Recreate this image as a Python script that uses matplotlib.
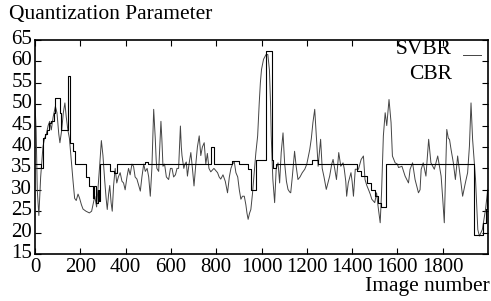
import matplotlib
matplotlib.use('Agg')
import matplotlib.pyplot as plt
from matplotlib.lines import Line2D
from matplotlib.transforms import ScaledTranslation

plt.rcParams['font.family'] = ['Liberation Serif', 'DejaVu Serif']

# SVBR quantization parameter
svbr_frame = [0, 5, 10, 17, 25, 35, 42, 50, 58, 65, 72, 80, 90, 97, 105, 110, 118, 125, 132, 138,
              145, 152, 160, 168, 175, 182, 190, 197, 205, 212, 225, 240, 250, 258, 264, 272, 279,
              286, 293, 300, 308, 314, 319, 325, 330, 336, 341, 347, 354, 361, 368, 376, 384, 391,
              398, 406, 413, 420, 428, 435, 442, 450, 458, 465, 472, 480, 487, 495, 502, 509, 516,
              520, 524, 528, 531, 535, 538, 546, 552, 556, 560, 565, 572, 580, 590, 598, 605, 612,
              620, 627, 634, 638, 642, 646, 649, 657, 662, 668, 673, 680, 688, 695, 702, 710, 717,
              725, 732, 739, 747, 754, 761, 768, 776, 790, 806, 813, 820, 830, 840, 850, 858, 865,
              872, 880, 887, 895, 902, 909, 916, 924, 931, 936, 941, 947, 953, 960, 968, 975, 983,
              990, 995, 1000, 1009, 1020, 1028, 1035, 1040, 1043, 1050, 1058, 1065, 1073, 1080,
              1087, 1095, 1102, 1110, 1117, 1124, 1129, 1136, 1146, 1153, 1161, 1170, 1180, 1191,
              1200, 1213, 1220, 1227, 1235, 1242, 1250, 1261, 1268, 1276, 1286, 1293, 1301, 1310,
              1316, 1323, 1331, 1341, 1350, 1360, 1365, 1372, 1376, 1383, 1395, 1400, 1406, 1414,
              1428, 1440, 1450, 1457, 1465, 1472, 1480, 1487, 1500, 1508, 1515, 1524, 1530, 1538,
              1546, 1553, 1563, 1572, 1578, 1590, 1600, 1605, 1620, 1634, 1649, 1656, 1667, 1678,
              1693, 1700, 1705, 1714, 1726, 1738, 1748, 1763, 1778, 1793, 1800, 1807, 1812, 1818,
              1825, 1830, 1837, 1847, 1856, 1866, 1877, 1888, 1900, 1910, 1918, 1925, 1932, 1945,
              1955, 1962, 1975, 1989, 1999]
svbr_qp = [50, 44, 30, 24, 33, 40, 42, 43, 45, 46, 44, 47, 49.5, 48, 43, 41, 44, 48, 50.3, 47,
           44, 42, 37, 32, 28, 27.5, 29, 28, 26.5, 25.5, 25, 24.6, 25, 27, 28.5, 26, 31,
           36, 41.5, 38, 32, 28, 25.4, 29, 31, 27, 25, 31, 35, 31.6, 33, 34, 32, 31.6,
           30, 33, 35, 33.5, 36, 35.5, 33, 32.5, 31, 29.7, 33, 36, 34.3, 35, 33, 28.5, 35,
           42, 48.8, 45, 42, 37, 35, 34.3, 41, 46, 42, 35.5, 36, 33, 32.4, 35, 35, 33,
           33.5, 35, 35, 40, 44.9, 40, 38, 35, 36, 36.5, 33.2, 36, 38.7, 35, 30.9, 36, 40,
           42.6, 38, 40, 41, 36, 38.5, 35, 34.2, 35, 34, 33, 32.5, 33.5, 32, 29.3, 33, 35,
           36, 36.5, 34, 33, 30, 27.8, 28.5, 28.5, 26.5, 24.5, 23.1, 24.5, 25.4, 29, 34, 38.6, 42.6,
           50.3, 55, 58.1, 60.5, 61.6, 61.6, 58, 50, 42.6, 32.5, 27, 35, 36.3, 31.6,
           38.7, 43.3, 36.3, 32, 30.1, 29.5, 29.3, 33, 39, 35.5, 32.4, 33, 34, 34.8,
           36, 39.4, 42, 45.7, 48.8, 42.6, 35.5, 41.8, 35, 33, 30.1, 31.5, 33.2, 36,
           37.1, 35, 32.4, 38.7, 35.5, 36.3, 35, 32, 28.5, 31.6, 34, 32, 28.5, 34.8,
           34.8, 37.1, 37.9, 32.4, 31, 30.1, 29, 27.8, 27, 29.3, 26, 22.3, 29.3, 42.6,
           48, 45, 51.1, 45.7, 37.9, 36.3, 36, 35.2, 35.5, 33.2, 31.6, 34.8, 36.3, 32.4,
           29.3, 30, 34.8, 36.3, 33.2, 41.8, 36.3, 34.8, 37.9, 33.2, 28, 22.3, 32, 44.1,
           42, 41.8, 39.4, 36.3, 32.4, 37.9, 33.2, 28.5, 31.6, 34, 40.2, 50.3, 41.8, 32.4,
           20.7, 19.2, 20.7, 25.4, 30.1]

# CBR quantization parameter (piecewise constant)
cbr_frame = [0, 25, 35, 45, 55, 62, 72, 82, 90, 110, 116, 146, 156, 168, 178, 225, 240, 255,
             262, 268, 276, 282, 288, 332, 350, 362, 487, 500, 776, 790, 870, 900, 940, 955,
             975, 1020, 1045, 1050, 1065, 1225, 1250, 1420, 1440, 1465, 1485, 1501, 1515,
             1528, 1548, 1940, 1977, 1989, 1997, 2000]
cbr_qp = [36, 35, 42, 43, 44, 45.5, 46, 48, 51.5, 48, 44, 56.6, 41, 39, 36, 33, 31, 28,
          31, 27, 30, 27.5, 36, 34.3, 34, 36, 36.5, 36, 40, 36, 36.7, 36, 34.8, 30,
          37, 62.5, 37, 35, 36, 37, 36, 34.3, 33.2, 31.6, 30, 28.5, 27,
          26, 36, 19.5, 22.3, 25.4, 30, 30]

xticks = [0, 200, 400, 600, 800, 1000, 1200, 1400, 1600, 1800]
yticks = [15, 20, 25, 30, 35, 40, 45, 50, 55, 60, 65]

fig = plt.figure(figsize=(4.91, 3.01), dpi=100)
ax = fig.add_axes([35 / 491, 47 / 301, 453 / 491, 214 / 301])

ax.plot(svbr_frame, svbr_qp, color='#444444', lw=0.7)
ax.step(cbr_frame, cbr_qp, where='post', color='black', lw=0.8)

ax.set_xlim(0, 2000)
ax.set_ylim(15, 65)
ax.set_xticks(xticks)
ax.set_yticks(yticks)
ax.tick_params(direction='in', length=4, width=0.8, top=True, right=True,
               labelsize=15)
ax.tick_params(axis='x', pad=3)
ax.tick_params(axis='y', pad=2)
# gnuplot puts the y labels a little above their ticks
up = ScaledTranslation(0, 3 / 100, fig.dpi_scale_trans)
for lab in ax.get_yticklabels():
    lab.set_transform(lab.get_transform() + up)
for s in ax.spines.values():
    s.set_linewidth(1.2)

fig.text(9 / 491, 1 - 15 / 301, 'Quantization Parameter', fontsize=15.5, va='center', ha='left')
fig.text(490 / 491, 1 - 287 / 301, 'Image number', fontsize=15.5, va='center', ha='right')

# gnuplot-style key
fig.text(452 / 491, 1 - 50 / 301, 'SVBR', fontsize=15.5, va='center', ha='right')
fig.text(452 / 491, 1 - 74 / 301, 'CBR', fontsize=15.5, va='center', ha='right')
fig.add_artist(Line2D([463 / 491, 481 / 491], [1 - 55 / 301, 1 - 55 / 301],
                      color='#444444', lw=0.7, transform=fig.transFigure))

fig.savefig('out.png', dpi=100)
